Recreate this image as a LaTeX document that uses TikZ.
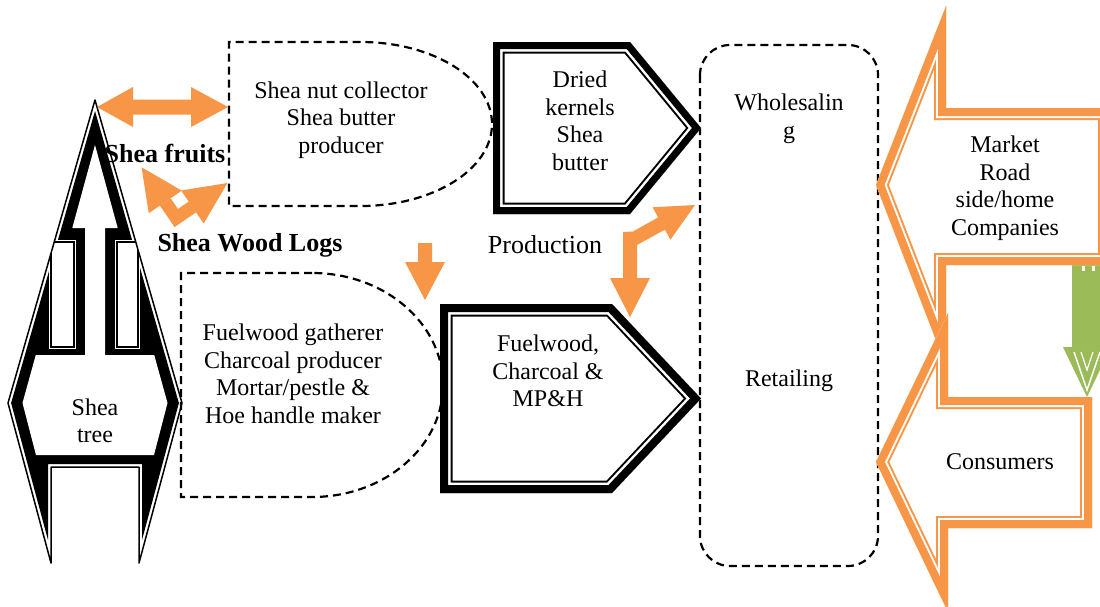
\documentclass[tikz,border=0pt]{standalone}
\usepackage{fontspec}
\setmainfont{Liberation Serif}
\definecolor{orng}{RGB}{247,150,70}
\definecolor{grn}{RGB}{155,187,89}
\newcommand\cpline[5]{%
  \begin{scope}
    \clip #1;
    \draw[#2,line width=#3,line join=miter] #1;
    \draw[white,line width=#4,line join=miter] #1;
    \draw[#2,line width=#5,line join=miter] #1;
  \end{scope}}
\begin{document}
\begin{tikzpicture}[x=1pt,y=-1pt,
  txt/.style={font=\fontsize{24}{27.5}\selectfont, align=center, inner sep=0pt},
  btxt/.style={font=\fontsize{26}{30}\selectfont\bfseries, inner sep=0pt},
  ptxt/.style={font=\fontsize{26}{30}\selectfont, inner sep=0pt},
  dsh/.style={dash pattern=on 8pt off 5pt, line width=2.2pt}]
\useasboundingbox (0,0) rectangle (1100,606);
\fill[white] (0,0) rectangle (1100,606);

% green arrow
\fill[grn] (1072,265) -- (1102,265) -- (1102,347) -- (1111,347) -- (1087,397) -- (1063,347) -- (1072,347) -- cycle;
\draw[white,line width=1.5pt] (1074,352) -- (1087,390) -- (1100,352);
\draw[white,line width=1.2pt] (1081,352) -- (1087,370) -- (1093,352);
\fill[white] (1082,266) rectangle (1085,271);
\fill[white] (1092,266) rectangle (1095,271);

% dashed shapes
\draw[dsh] (360.5,42) -- (229,42) -- (229,206) -- (360.5,206)
  arc[start angle=-90,end angle=90,x radius=131.5pt,y radius=82pt] -- cycle;
\draw[dsh] (312,273) -- (181,273) -- (181,497) -- (312,497)
  arc[start angle=-90,end angle=90,x radius=131pt,y radius=112pt] -- cycle;
\draw[dsh, rounded corners=30pt] (700,45) rectangle (878,566);

% pentagons
\cpline{(493,42) -- (630,42) -- (701,128) -- (630,214) -- (493,214) -- cycle}{black}{23pt}{19pt}{14pt}
\cpline{(440,304) -- (612,304) -- (701,398.5) -- (612,493) -- (440,493) -- cycle}{black}{25pt}{21pt}{16pt}

% orange left arrows
\cpline{(876,185) -- (946,6) -- (946,108) -- (1110,108) -- (1110,265) -- (946,265) -- (946,366) -- cycle}{orng}{24pt}{20pt}{16pt}
\cpline{(876,462) -- (948,313) -- (948,397) -- (1092,397) -- (1092,528) -- (948,528) -- (948,612) -- cycle}{orng}{24pt}{20pt}{16pt}

% Shea tree shape
\fill[black] (95,111) -- (178.9,403) -- (142,540) -- (142,464) -- (48,464) -- (48,540) -- (11.1,403) -- cycle;
\fill[white] (95,145) -- (117.7,228) -- (105,228) -- (105,355) -- (154.2,355) -- (167.5,403) -- (154,455)
  -- (36,455) -- (22.5,403) -- (35.8,355) -- (85,355) -- (85,228) -- (72.3,228) -- cycle;
\begin{scope}
  \clip (95,100) -- (182,403) -- (139,563) -- (139,467) -- (51,467) -- (51,563) -- (8,403) -- cycle;
  \fill[white] (49,240) rectangle (76,349);
  \fill[white] (115,240) rectangle (140,349);
  \draw[line width=1.5pt] (51,242) rectangle (74,347);
  \draw[line width=1.5pt] (117,242) rectangle (138,347);
\end{scope}
\draw[line width=1.5pt, line join=round] (95,100) -- (182,403) -- (139,563) -- (139,467) -- (51,467) -- (51,563) -- (8,403) -- cycle;

% orange solid arrows
\fill[orng] (97,107) -- (133,87) -- (133,99.5) -- (191,99.5) -- (191,87) -- (228,107) -- (191,127) -- (191,114.5) -- (133,114.5) -- (133,127) -- cycle;
\fill[orng] (141.55,167.26) -- (181.78,190.61) -- (148.78,213.21) -- cycle;
\fill[orng] (227.37,183.03) -- (181.09,190.48) -- (203.69,223.48) -- cycle;
\fill[orng] (174.61,227.04) -- (159.92,205.58) -- (170.64,198.24) -- (177.99,208.97) -- (188.72,201.62) -- (196.06,212.34) -- cycle;
\fill[orng] (418,243) -- (432,243) -- (432,262) -- (445,262) -- (425,300) -- (405,262) -- (418,262) -- cycle;
\fill[orng] (623,232) -- (633,231.5) -- (658.1,217.4) -- (652.6,207.3) -- (695,205) -- (670.4,239.7) -- (664.9,229.6)
  -- (637,245) -- (637,278) -- (650,278) -- (630,317) -- (610,278) -- (623,278) -- cycle;

% texts
\node[txt] (snc) at (341,120) {Shea nut collector\\Shea butter\\producer};
\node[txt] (fwg) at (293,374) {Fuelwood gatherer\\Charcoal producer\\Mortar/pestle \&\\Hoe handle maker};
\node[txt] (dk) at (580,121) {Dried\\kernels\\Shea\\butter};
\node[txt] (fc) at (548,371) {Fuelwood,\\Charcoal \&\\MP\&H};
\node[txt] (ws) at (789,119) {Wholesalin\\g};
\node[txt] (rt) at (789,381) {Retailing};
\node[txt] (mk) at (1005,188) {Market\\Road\\side/home\\Companies};
\node[txt] (cs) at (1000,462) {Consumers};
\node[txt] (st) at (95,421) {Shea\\tree};
\node[btxt] (sf) at (165,153) {Shea fruits};
\node[btxt] (swl) at (250,245) {Shea Wood Logs};
\node[ptxt] (pr) at (545,245) {Production};
\end{tikzpicture}
\end{document}
